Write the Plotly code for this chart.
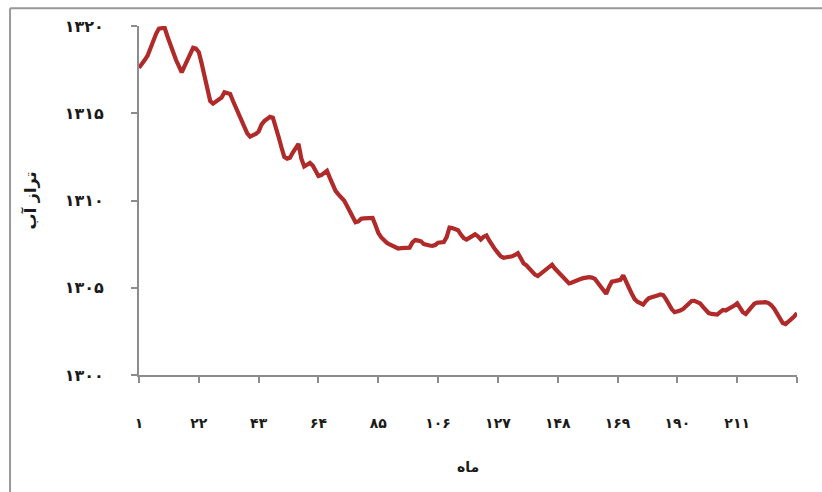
import plotly.graph_objects as go

months = list(range(1, 233))
water_level = [
    1317.60, 1317.80, 1318.05, 1318.30, 1318.75, 1319.20, 1319.55, 1319.85, 1319.90, 1319.90,
    1319.40, 1318.90, 1318.40, 1318.05, 1317.70, 1317.35, 1317.70, 1318.05, 1318.45, 1318.75,
    1318.70, 1318.50, 1317.85, 1317.15, 1316.45, 1315.70, 1315.55, 1315.65, 1315.75, 1315.90,
    1316.20, 1316.15, 1316.10, 1315.70, 1315.30, 1314.90, 1314.55, 1314.15, 1313.85, 1313.66,
    1313.72, 1313.82, 1313.95, 1314.35, 1314.55, 1314.65, 1314.80, 1314.75, 1314.25, 1313.65,
    1313.05, 1312.50, 1312.40, 1312.45, 1312.75, 1313.05, 1313.25, 1312.40, 1311.95, 1312.05,
    1312.15, 1312.00, 1311.65, 1311.40, 1311.45, 1311.60, 1311.70, 1311.30, 1310.90, 1310.55,
    1310.35, 1310.20, 1310.00, 1309.70, 1309.40, 1309.05, 1308.75, 1308.80, 1308.95, 1308.98,
    1309.00, 1309.02, 1309.00, 1308.60, 1308.15, 1307.90, 1307.70, 1307.58, 1307.48, 1307.38,
    1307.30, 1307.25, 1307.27, 1307.28, 1307.27, 1307.30, 1307.60, 1307.74, 1307.70, 1307.66,
    1307.50, 1307.44, 1307.42, 1307.40, 1307.45, 1307.58, 1307.62, 1307.62, 1307.90, 1308.45,
    1308.42, 1308.38, 1308.30, 1308.05, 1307.85, 1307.76, 1307.85, 1307.97, 1308.06, 1307.95,
    1307.77, 1307.92, 1308.00, 1307.70, 1307.42, 1307.20, 1307.00, 1306.80, 1306.72, 1306.74,
    1306.77, 1306.80, 1306.88, 1306.98, 1306.70, 1306.40, 1306.28, 1306.10, 1305.90, 1305.75,
    1305.67, 1305.80, 1305.95, 1306.10, 1306.22, 1306.32, 1306.10, 1305.92, 1305.80, 1305.65,
    1305.45, 1305.25, 1305.30, 1305.38, 1305.45, 1305.50, 1305.55, 1305.60, 1305.61, 1305.58,
    1305.52, 1305.30, 1305.05, 1304.80, 1304.65, 1305.05, 1305.35, 1305.38, 1305.40, 1305.45,
    1305.71, 1305.40, 1305.00, 1304.65, 1304.35, 1304.20, 1304.08, 1304.03, 1304.25, 1304.40,
    1304.45, 1304.48, 1304.55, 1304.62, 1304.58, 1304.35, 1304.05, 1303.78, 1303.60, 1303.62,
    1303.70, 1303.78, 1303.95, 1304.12, 1304.24, 1304.25, 1304.20, 1304.10, 1303.90, 1303.68,
    1303.55, 1303.50, 1303.47, 1303.46, 1303.60, 1303.73, 1303.70, 1303.78, 1303.88, 1303.98,
    1304.11, 1303.85, 1303.60, 1303.50, 1303.70, 1303.92, 1304.08, 1304.15, 1304.17, 1304.17,
    1304.17, 1304.12, 1304.00, 1303.80, 1303.55, 1303.25, 1302.98, 1302.92, 1303.05, 1303.18,
    1303.35, 1303.55,
]

x_tick_values = [1, 22, 43, 64, 85, 106, 127, 148, 169, 190, 211, 232]
x_tick_labels = ["۱", "۲۲", "۴۳", "۶۴", "۸۵", "۱۰۶", "۱۲۷", "۱۴۸", "۱۶۹", "۱۹۰", "۲۱۱", ""]
y_tick_values = [1300, 1305, 1310, 1315, 1320]
y_tick_labels = ["۱۳۰۰", "۱۳۰۵", "۱۳۱۰", "۱۳۱۵", "۱۳۲۰"]

x_title = "ماه"
y_title = "تراز آب"

font_family = "DejaVu Sans"
axis_color = "#8c8c8c"
line_color = "#B02A2A"

fig = go.Figure()
fig.add_trace(go.Scatter(
    x=months, y=water_level, mode="lines",
    line=dict(color=line_color, width=4.2, shape="linear"),
    cliponaxis=False, showlegend=False, hoverinfo="x+y",
))

fig.update_layout(
    width=822, height=492,
    margin=dict(l=139, r=25, t=26, b=117),
    paper_bgcolor="white", plot_bgcolor="white",
    font=dict(family=font_family, color="#1a1a1a"),
    xaxis=dict(
        range=[1, 232], tickmode="array", tickvals=x_tick_values, ticktext=x_tick_labels,
        showgrid=False, zeroline=False, showline=True, linecolor=axis_color, linewidth=2,
        ticks="outside", ticklen=6, tickwidth=1.5, tickcolor=axis_color,
        ticklabelstandoff=28,
        tickfont=dict(size=14, family=font_family, weight="bold", color="#1a1a1a"),
        title=dict(text=x_title, font=dict(size=14, family=font_family, weight="bold"), standoff=32),
    ),
    yaxis=dict(
        range=[1300, 1320], tickmode="array", tickvals=y_tick_values, ticktext=y_tick_labels,
        showgrid=False, zeroline=False, showline=True, linecolor=axis_color, linewidth=2,
        ticks="outside", ticklen=6, tickwidth=1.5, tickcolor=axis_color,
        ticklabelstandoff=24,
        tickfont=dict(size=16, family=font_family, weight="bold", color="#1a1a1a"),
        title=dict(text=y_title, font=dict(size=16, family=font_family, weight="bold"), standoff=24),
    ),
    shapes=[
        dict(type="line", xref="paper", yref="paper", x0=-0.196, x1=1.04, y0=1.051, y1=1.051,
             line=dict(color="#999999", width=2)),
        dict(type="line", xref="paper", yref="paper", x0=-0.196, x1=-0.196, y0=1.051, y1=-0.34,
             line=dict(color="#999999", width=2)),
    ],
)

fig.write_html("out.html", config={"displayModeBar": False},
               post_script="document.body.style.margin='0';document.body.style.padding='0';")
